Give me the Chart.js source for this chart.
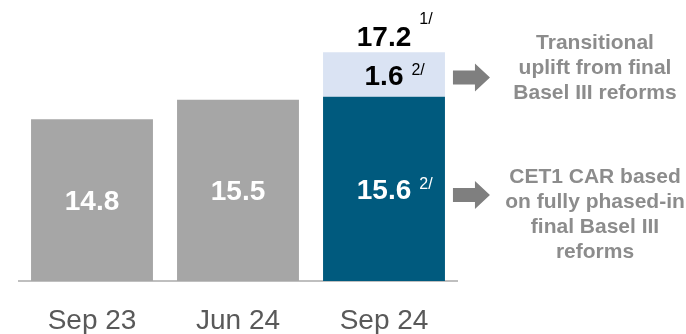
<!DOCTYPE html>
<html>
<head>
<meta charset="utf-8">
<script src="https://cdn.jsdelivr.net/npm/chart.js@4/dist/chart.umd.min.js"></script>
<style>
  html, body { margin: 0; padding: 0; background: #ffffff; }
  #wrap { width: 686px; height: 334px; }
</style>
</head>
<body>
<div id="wrap"><canvas id="cet1" width="686" height="334"></canvas></div>
<script>
// CET1 capital adequacy ratio, per cent
const categories = ['Sep 23', 'Jun 24', 'Sep 24'];
const cet1Ratio = [14.8, 15.5, 15.6];
const baselUplift = [null, null, 1.6];
const cet1Notes = ['', '', '2/'];
const upliftNotes = ['', '', '2/'];
const totalNote = '1/';
const upliftCaption = ['Transitional', 'uplift from final', 'Basel III reforms'];
const cet1Caption = ['CET1 CAR based', 'on fully phased-in', 'final Basel III', 'reforms'];

const FONT = '"Liberation Sans", Arial, sans-serif';
const GREY_BAR = '#a6a6a6';
const TEAL = '#005a7e';
const LIGHT = '#dae3f3';
const CAPTION = '#8c8c8c';
const ARROW = '#7f7f7f';
const CAP = 0.716; // cap height of the sans face, in em
const last = categories.length - 1;

function drawArrow(ctx, x, y) {
  ctx.save();
  ctx.fillStyle = ARROW;
  ctx.beginPath();
  ctx.moveTo(x, y - 7);
  ctx.lineTo(x + 22, y - 7);
  ctx.lineTo(x + 22, y - 14);
  ctx.lineTo(x + 37, y);
  ctx.lineTo(x + 22, y + 14);
  ctx.lineTo(x + 22, y + 7);
  ctx.lineTo(x, y + 7);
  ctx.closePath();
  ctx.fill();
  ctx.restore();
}

function drawCaption(ctx, lines, cx, cy) {
  ctx.save();
  ctx.font = 'bold 21px ' + FONT;
  ctx.fillStyle = CAPTION;
  ctx.textAlign = 'center';
  ctx.textBaseline = 'middle';
  const lh = 25;
  const top = cy - (lines.length - 1) * lh / 2;
  lines.forEach((t, i) => ctx.fillText(t, cx, top + i * lh));
  ctx.restore();
}

// value with an optional footnote marker set as a superscript
function drawValue(ctx, text, note, cx, cy, color, noteRaise) {
  const size = 28, noteSize = 16;
  ctx.save();
  ctx.font = 'bold ' + size + 'px ' + FONT;
  ctx.fillStyle = color;
  ctx.textAlign = 'center';
  ctx.textBaseline = 'alphabetic';
  const capTop = cy - CAP * size / 2;
  ctx.fillText(text, cx, cy + CAP * size / 2);
  if (note) {
    const w = ctx.measureText(text).width;
    ctx.font = noteSize + 'px ' + FONT;
    ctx.textAlign = 'left';
    ctx.fillText(note, cx + w / 2 + 8, capTop + CAP * noteSize - noteRaise);
  }
  ctx.restore();
}

const labelPlugin = {
  id: 'barLabels',
  afterDatasetsDraw(chart) {
    const ctx = chart.ctx;
    const area = chart.chartArea;
    const base = chart.getDatasetMeta(0).data;
    const top = chart.getDatasetMeta(1).data;

    base.forEach((el, i) => {
      const cy = (el.y + area.bottom) / 2;
      drawValue(ctx, cet1Ratio[i].toFixed(1), cet1Notes[i], el.x, cy, '#ffffff', 1);
    });

    top.forEach((el, i) => {
      const v = baselUplift[i];
      if (v == null) return;
      const cy = (el.y + el.base) / 2;
      drawValue(ctx, v.toFixed(1), upliftNotes[i], el.x, cy, '#000000', 1);
      const total = cet1Ratio[i] + v;
      drawValue(ctx, total.toFixed(1), totalNote, el.x, el.y - 16, '#000000', 14);
    });

    // side notes explaining the stacked bar
    const stackTop = top[last];
    const stackBase = base[last];
    const ax = stackTop.x + stackTop.width / 2 + 8;
    const capX = 595;
    const y1 = (stackTop.y + stackTop.base) / 2 + 3;
    const y2 = (stackBase.y + area.bottom) / 2 + 6;
    drawArrow(ctx, ax, y1);
    drawArrow(ctx, ax, y2);
    drawCaption(ctx, upliftCaption, capX, y1 - 9);
    drawCaption(ctx, cet1Caption, capX, y2 + 20);
  }
};

new Chart(document.getElementById('cet1'), {
  type: 'bar',
  data: {
    labels: categories,
    datasets: [
      {
        label: 'CET1 CAR',
        data: cet1Ratio,
        backgroundColor: ctx => ctx.dataIndex === last ? TEAL : GREY_BAR,
        barPercentage: 0.835,
        categoryPercentage: 1
      },
      {
        label: 'Transitional uplift',
        data: baselUplift,
        backgroundColor: LIGHT,
        barPercentage: 0.835,
        categoryPercentage: 1
      }
    ]
  },
  options: {
    responsive: false,
    animation: false,
    devicePixelRatio: 1,
    layout: { padding: { left: 19, right: 229, top: 2, bottom: 0 } },
    plugins: { legend: { display: false }, tooltip: { enabled: false } },
    scales: {
      x: {
        stacked: true,
        grid: { display: false },
        border: { color: '#bfbfbf', width: 2 },
        ticks: { color: '#595959', font: { family: FONT, size: 28 }, padding: 15 },
        afterFit(scale) { scale.height = 53; }
      },
      y: {
        stacked: true,
        display: false,
        min: 9,
        max: 19
      }
    }
  },
  plugins: [labelPlugin]
});
</script>
</body>
</html>
